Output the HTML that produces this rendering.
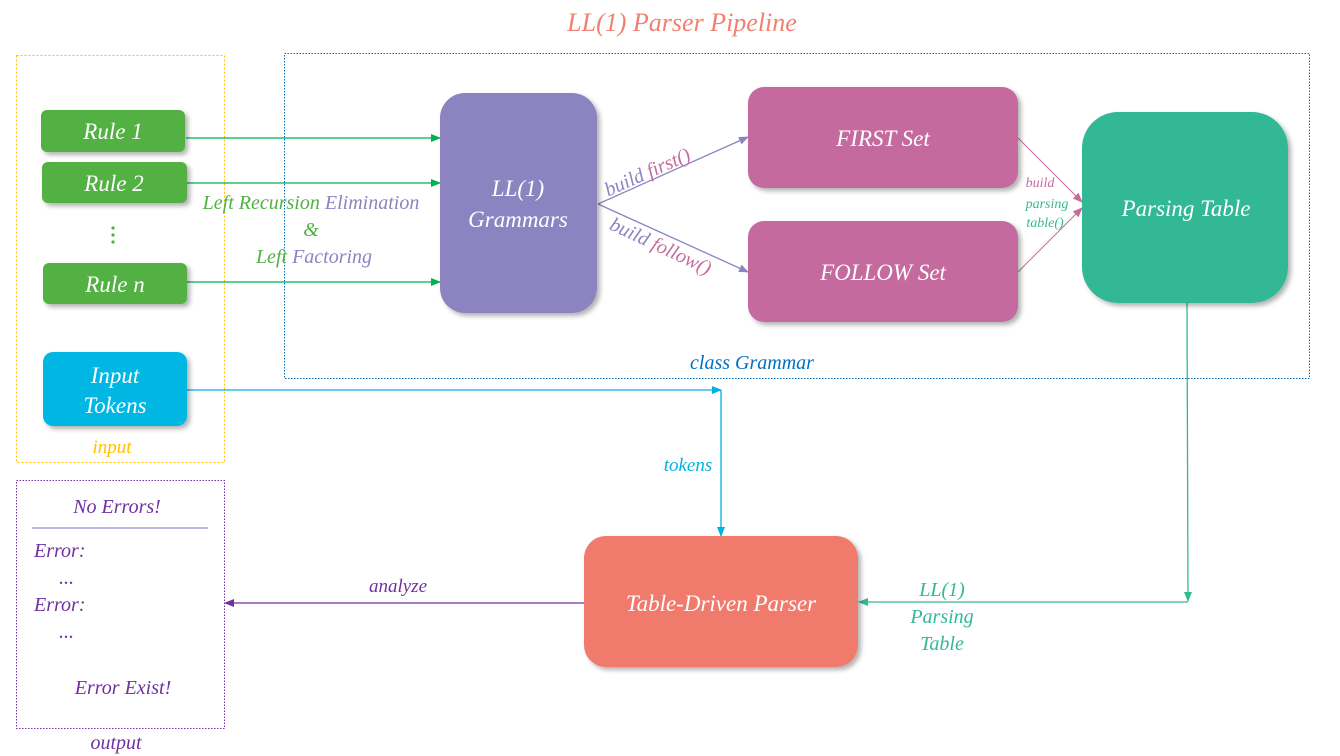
<!DOCTYPE html>
<html><head><meta charset="utf-8"><style>
html,body{margin:0;padding:0;background:#fff;width:1340px;height:756px;overflow:hidden}
svg text{font-family:"Liberation Serif",serif;font-style:italic}
</style></head><body>
<svg width="1340" height="756" viewBox="0 0 1340 756" xmlns="http://www.w3.org/2000/svg">
<defs>
<filter id="sh" x="-10%" y="-10%" width="130%" height="130%"><feDropShadow dx="3" dy="3" stdDeviation="2.5" flood-color="#000" flood-opacity="0.3"/></filter>
<marker id="ag" markerWidth="10" markerHeight="10" refX="9" refY="5" orient="auto" markerUnits="userSpaceOnUse"><path d="M0,1 L10,5 L0,9z" fill="#00b050"/></marker>
<marker id="ap" markerWidth="10" markerHeight="10" refX="9" refY="5" orient="auto" markerUnits="userSpaceOnUse"><path d="M0,1 L10,5 L0,9z" fill="#8b84c0"/></marker>
<marker id="ak" markerWidth="10" markerHeight="10" refX="9" refY="5" orient="auto" markerUnits="userSpaceOnUse"><path d="M0,1 L10,5 L0,9z" fill="#c56b9e"/></marker>
<marker id="ac" markerWidth="10" markerHeight="10" refX="9" refY="5" orient="auto" markerUnits="userSpaceOnUse"><path d="M0,1 L10,5 L0,9z" fill="#00b0e0"/></marker>
<marker id="at" markerWidth="10" markerHeight="10" refX="9" refY="5" orient="auto" markerUnits="userSpaceOnUse"><path d="M0,1 L10,5 L0,9z" fill="#33b894"/></marker>
<marker id="av" markerWidth="10" markerHeight="10" refX="9" refY="5" orient="auto" markerUnits="userSpaceOnUse"><path d="M0,1 L10,5 L0,9z" fill="#7030a0"/></marker>
</defs>
<text x="682" y="31" text-anchor="middle" font-size="26" fill="#f08070">LL(1) Parser Pipeline</text>

<rect x="16.5" y="55.5" width="208" height="407" fill="none" stroke="#ffc000" stroke-dasharray="2,2"/>
<text x="112" y="453" text-anchor="middle" font-size="19" fill="#ffc000">input</text>
<rect x="284.5" y="53.5" width="1025" height="325" fill="none" stroke="#0070c0" stroke-dasharray="1.5,1.5"/>
<text x="752" y="369" text-anchor="middle" font-size="20" fill="#0070c0">class Grammar</text>
<rect x="16.5" y="480.5" width="208" height="248" fill="none" stroke="#7030a0" stroke-dasharray="1.5,1.5"/>
<text x="116" y="749" text-anchor="middle" font-size="20" fill="#7030a0">output</text>

<!-- arrows -->
<line x1="186" y1="138" x2="440" y2="138" stroke="#00b050" stroke-width="1.3" marker-end="url(#ag)"/>
<line x1="187" y1="183" x2="440" y2="183" stroke="#00b050" stroke-width="1.3" marker-end="url(#ag)"/>
<line x1="187" y1="282" x2="440" y2="282" stroke="#00b050" stroke-width="1.3" marker-end="url(#ag)"/>
<line x1="598" y1="204" x2="748" y2="137" stroke="#8b84c0" stroke-width="1.3" marker-end="url(#ap)"/>
<line x1="598" y1="204" x2="748" y2="272" stroke="#8b84c0" stroke-width="1.3" marker-end="url(#ap)"/>
<line x1="1018" y1="138" x2="1082" y2="202" stroke="#c56b9e" stroke-width="1" marker-end="url(#ak)"/>
<line x1="1018" y1="272" x2="1082" y2="208" stroke="#c56b9e" stroke-width="1" marker-end="url(#ak)"/>
<line x1="187" y1="390" x2="721" y2="390" stroke="#00b0e0" stroke-width="1.3" marker-end="url(#ac)"/>
<line x1="721" y1="390" x2="721" y2="536" stroke="#00b0e0" stroke-width="1.3" marker-end="url(#ac)"/>
<polyline points="1187,303 1188,601" fill="none" stroke="#33b894" stroke-width="1.3" marker-end="url(#at)"/>
<line x1="1188" y1="602" x2="859" y2="602" stroke="#33b894" stroke-width="1.3" marker-end="url(#at)"/>
<line x1="584" y1="603" x2="225" y2="603" stroke="#7030a0" stroke-width="1.3" marker-end="url(#av)"/>

<!-- nodes -->
<g filter="url(#sh)">
<rect x="41" y="110" width="144" height="42" rx="6" fill="#52b043"/>
<rect x="42" y="162" width="145" height="41" rx="6" fill="#52b043"/>
<rect x="43" y="263" width="144" height="41" rx="6" fill="#52b043"/>
<rect x="43" y="352" width="144" height="74" rx="10" fill="#00b7e3"/>
<rect x="440" y="93" width="157" height="220" rx="25" fill="#8b84c0"/>
<rect x="748" y="87" width="270" height="101" rx="16" fill="#c56b9e"/>
<rect x="748" y="221" width="270" height="101" rx="16" fill="#c56b9e"/>
<rect x="1082" y="112" width="206" height="191" rx="36" fill="#33b894"/>
<rect x="584" y="536" width="274" height="131" rx="22" fill="#f07a6c"/>
</g>
<g fill="#fff" font-size="23" text-anchor="middle">
<text x="113" y="139">Rule 1</text>
<text x="114" y="191">Rule 2</text>
<text x="115" y="292">Rule n</text>
<text x="115" y="383">Input</text>
<text x="115" y="413">Tokens</text>
<text x="518" y="196">LL(1)</text>
<text x="518" y="227">Grammars</text>
<text x="883" y="146">FIRST Set</text>
<text x="883" y="280">FOLLOW Set</text>
<text x="1186" y="216">Parsing Table</text>
<text x="721" y="611">Table-Driven Parser</text>
</g>
<g fill="#52b043"><circle cx="113" cy="228" r="1.6"/><circle cx="113" cy="235" r="1.6"/><circle cx="113" cy="242" r="1.6"/></g>

<!-- labels -->
<text x="311" y="209" text-anchor="middle" font-size="20"><tspan fill="#52b043">Left Recursion </tspan><tspan fill="#8b84c0">Elimination</tspan></text>
<text x="311" y="236" text-anchor="middle" font-size="20" fill="#52b043">&amp;</text>
<text x="314" y="263" text-anchor="middle" font-size="20"><tspan fill="#52b043">Left </tspan><tspan fill="#8b84c0">Factoring</tspan></text>
<text x="650" y="178" text-anchor="middle" font-size="20" transform="rotate(-24 650 178)"><tspan fill="#8b84c0">build </tspan><tspan fill="#c56b9e">first()</tspan></text>
<text x="658" y="252" text-anchor="middle" font-size="20" transform="rotate(25 658 252)"><tspan fill="#8b84c0">build </tspan><tspan fill="#c56b9e">follow()</tspan></text>
<text x="1040" y="187" text-anchor="middle" font-size="14" fill="#c56b9e">build</text>
<text x="1047" y="208" text-anchor="middle" font-size="14" fill="#33b894">parsing</text>
<text x="1045" y="227" text-anchor="middle" font-size="14" fill="#33b894">table()</text>
<text x="688" y="471" text-anchor="middle" font-size="19" fill="#00b0e0">tokens</text>
<text x="942" y="596" text-anchor="middle" font-size="20" fill="#33b894">LL(1)</text>
<text x="942" y="623" text-anchor="middle" font-size="20" fill="#33b894">Parsing</text>
<text x="942" y="650" text-anchor="middle" font-size="20" fill="#33b894">Table</text>
<text x="398" y="592" text-anchor="middle" font-size="19" fill="#7030a0">analyze</text>

<g fill="#7030a0" font-size="20">
<text x="117" y="513" text-anchor="middle">No Errors!</text>
<line x1="32" y1="528" x2="208" y2="528" stroke="#8b6fc8" stroke-width="1"/>
<text x="34" y="557">Error:</text>
<text x="59" y="584">...</text>
<text x="34" y="611">Error:</text>
<text x="59" y="638">...</text>
<text x="123" y="694" text-anchor="middle">Error Exist!</text>
</g>
</svg>
</body></html>
